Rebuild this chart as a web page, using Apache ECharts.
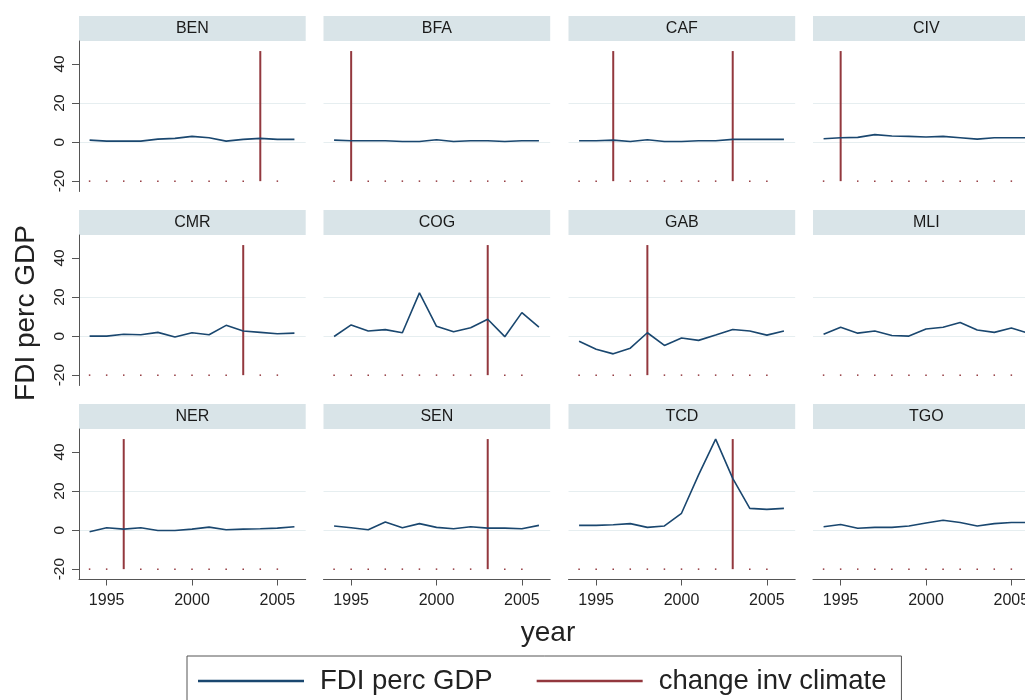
<!DOCTYPE html>
<html>
<head>
<meta charset="utf-8">
<script src="https://cdn.jsdelivr.net/npm/echarts@6/dist/echarts.min.js"></script>
<style>
  html, body { margin: 0; padding: 0; background: #fff; overflow: hidden; }
  #chart { width: 1045px; height: 700px; }
</style>
</head>
<body>
<div id="chart"></div>
<script>
// data
const years = [1994, 1995, 1996, 1997, 1998, 1999, 2000, 2001, 2002, 2003, 2004, 2005, 2006]
const countries = ['BEN', 'BFA', 'CAF', 'CIV', 'CMR', 'COG', 'GAB', 'MLI', 'NER', 'SEN', 'TCD', 'TGO']

const fdiBEN = [1.0, 0.5, 0.5, 0.5, 1.5, 1.9, 2.9, 2.2, 0.5, 1.4, 1.9, 1.4, 1.4]
const fdiBFA = [1.0, 0.7, 0.7, 0.7, 0.3, 0.3, 1.2, 0.3, 0.7, 0.7, 0.3, 0.7, 0.7]
const fdiCAF = [0.7, 0.7, 1.0, 0.3, 1.2, 0.3, 0.3, 0.7, 0.7, 1.4, 1.4, 1.4, 1.4]
const fdiCIV = [1.7, 2.2, 2.4, 3.8, 3.1, 2.9, 2.6, 2.9, 2.2, 1.5, 2.2, 2.2, 2.2]
const fdiCMR = [0.0, 0.0, 0.9, 0.7, 1.9, -0.5, 1.7, 0.7, 5.5, 2.6, 1.9, 1.2, 1.5]
const fdiCOG = [-0.2, 5.7, 2.6, 3.3, 1.7, 22.1, 5.0, 2.2, 4.3, 8.6, -0.3, 12.0, 4.6]
const fdiGAB = [-2.6, -6.7, -9.1, -6.2, 1.7, -4.8, -1.0, -2.2, 0.5, 3.4, 2.6, 0.5, 2.6]
const fdiMLI = [0.9, 4.5, 1.5, 2.6, 0.3, 0.0, 3.6, 4.5, 7.0, 3.1, 1.9, 4.1, 1.5]
const fdiNER = [-0.9, 1.2, 0.5, 1.2, -0.2, -0.2, 0.5, 1.5, 0.2, 0.5, 0.7, 1.0, 1.7]
const fdiSEN = [2.1, 1.2, 0.2, 4.1, 1.2, 3.3, 1.4, 0.7, 1.7, 1.0, 1.0, 0.7, 2.4]
const fdiTCD = [2.4, 2.4, 2.7, 3.3, 1.4, 2.1, 8.6, 28.3, 46.6, 26.5, 11.1, 10.6, 11.1]
const fdiTGO = [1.7, 2.9, 0.9, 1.4, 1.4, 2.1, 3.6, 5.0, 3.9, 2.1, 3.3, 3.9, 3.9]
const fdiSeries = [fdiBEN, fdiBFA, fdiCAF, fdiCIV, fdiCMR, fdiCOG, fdiGAB, fdiMLI, fdiNER, fdiSEN, fdiTCD, fdiTGO]

// years with a change in investment climate, per country (same order)
const changeYears = [[2004], [1995], [1996, 2003], [1995], [2003], [2003], [1998], [], [1996], [2003], [2003], []]
const changeLastYear = 2005
const spikeTop = 46.6
const spikeBase = -20

const yTicks = [-20, 0, 20, 40]
const xTicks = [1995, 2000, 2005]

// layout / style
const FONT = 'Liberation Sans, Arial, sans-serif'
const NAVY = '#1a476f'
const MAROON = '#93383e'
const colLeft = [79, 323.5, 568.5, 813]
const rowTop = [41, 235, 429]
const panelW = 226.7
const panelH = 150.5
const stripH = 25

const chart = echarts.init(document.getElementById('chart'), null, { renderer: 'canvas' })

const grid = [], xAxis = [], yAxis = [], series = [], graphic = []

countries.forEach((name, i) => {
  const r = Math.floor(i / 4)
  const c = i % 4
  const bottomRow = r === 2
  const leftCol = c === 0

  grid.push({ left: colLeft[c], top: rowTop[r], width: panelW, height: panelH })

  xAxis.push({
    type: 'value',
    gridIndex: i,
    min: 1993.38,
    max: 2006.66,
    axisLine: { show: bottomRow, onZero: false, lineStyle: { color: '#555', width: 1 } },
    axisTick: { show: bottomRow, customValues: xTicks, length: 6, lineStyle: { color: '#555' } },
    axisLabel: {
      show: bottomRow, customValues: xTicks, formatter: v => String(v),
      fontSize: 16, fontFamily: FONT, color: '#222', margin: 13
    },
    splitLine: { show: false }
  })

  yAxis.push({
    type: 'value',
    gridIndex: i,
    min: -25.3,
    max: 51.75,
    axisLine: { show: leftCol, onZero: false, lineStyle: { color: '#555', width: 1 } },
    axisTick: { show: leftCol, customValues: yTicks, length: 7, lineStyle: { color: '#555' } },
    axisLabel: { show: leftCol, customValues: yTicks, rotate: 90, fontSize: 15.5, fontFamily: FONT, color: '#222', margin: 11 },
    splitLine: { show: true, showMinLine: false, showMaxLine: false, lineStyle: { color: '#e6eef0', width: 1 } }
  })

  const fdi = fdiSeries[i]
  series.push({
    name: 'FDI perc GDP',
    type: 'line',
    xAxisIndex: i,
    yAxisIndex: i,
    showSymbol: false,
    silent: true,
    lineStyle: { color: NAVY, width: 1.6 },
    itemStyle: { color: NAVY },
    data: years.map((y, k) => [y, fdi[k]])
  })

  const changes = changeYears[i]
  series.push({
    name: 'change inv climate',
    type: 'custom',
    coordinateSystem: 'cartesian2d',
    xAxisIndex: i,
    yAxisIndex: i,
    silent: true,
    itemStyle: { color: MAROON },
    encode: { x: 0, y: 1 },
    data: years.filter(y => y <= changeLastYear).map(y => [y, changes.includes(y) ? spikeTop : spikeBase]),
    renderItem: (params, api) => {
      const x = api.value(0)
      const v = api.value(1)
      const base = api.coord([x, spikeBase])
      if (v === spikeBase) {
        return {
          type: 'rect',
          shape: { x: base[0] - 0.75, y: base[1] - 0.75, width: 1.5, height: 1.5 },
          style: { fill: MAROON }
        }
      }
      const top = api.coord([x, v])
      return {
        type: 'line',
        shape: { x1: base[0], y1: base[1], x2: top[0], y2: top[1] },
        style: { stroke: MAROON, lineWidth: 2 }
      }
    }
  })

  // panel header strip
  graphic.push({
    type: 'group',
    left: colLeft[c],
    top: rowTop[r] - stripH,
    children: [
      { type: 'rect', shape: { x: 0, y: 0, width: panelW, height: stripH }, style: { fill: '#d9e4e8' } },
      {
        type: 'text',
        x: panelW / 2,
        y: stripH / 2 + 0.5,
        style: { text: name, font: '16px ' + FONT, fill: '#1a1a1a', align: 'center', verticalAlign: 'middle' }
      }
    ]
  })
})

// axis titles
graphic.push({
  type: 'text',
  x: 26,
  y: 313,
  rotation: Math.PI / 2,
  style: { text: 'FDI perc GDP', font: '28px ' + FONT, fill: '#222', align: 'center', verticalAlign: 'middle' }
})
graphic.push({
  type: 'text',
  x: 548,
  y: 633,
  style: { text: 'year', font: '28px ' + FONT, fill: '#222', align: 'center', verticalAlign: 'middle' }
})

const option = {
  animation: false,
  backgroundColor: '#fff',
  grid,
  xAxis,
  yAxis,
  series,
  graphic,
  legend: {
    left: 187,
    top: 656,
    selectedMode: false,
    data: [
      { name: 'FDI perc GDP', icon: 'rect' },
      { name: 'change inv climate', icon: 'rect' }
    ],
    itemWidth: 106,
    itemHeight: 2.5,
    itemGap: 44,
    padding: [11, 15, 11, 11],
    borderColor: '#555',
    borderWidth: 1,
    textStyle: { fontSize: 27.5, fontFamily: FONT, color: '#222', padding: [0, 0, 0, 11] }
  }
}

chart.setOption(option)
</script>
</body>
</html>
